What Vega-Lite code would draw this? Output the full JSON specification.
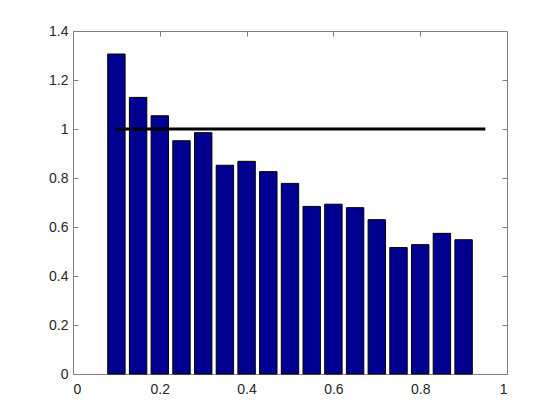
{
  "$schema": "https://vega.github.io/schema/vega-lite/v6.json",
  "width": 434,
  "height": 343,
  "autosize": {"type": "none"},
  "padding": {"left": 73, "top": 31, "right": 53, "bottom": 46},
  "background": "white",
  "config": {
    "view": {"stroke": "#808080", "strokeWidth": 1},
    "axis": {
      "grid": false,
      "domain": false,
      "tickColor": "#808080",
      "tickSize": -5,
      "labelFont": "Liberation Sans",
      "labelFontSize": 14,
      "labelColor": "#262626",
      "title": null
    }
  },
  "layer": [
    {
      "data": {"values": [
        {"x": 0.10, "v": 1.306},
        {"x": 0.15, "v": 1.129},
        {"x": 0.20, "v": 1.054},
        {"x": 0.25, "v": 0.952},
        {"x": 0.30, "v": 0.985},
        {"x": 0.35, "v": 0.852},
        {"x": 0.40, "v": 0.868},
        {"x": 0.45, "v": 0.826},
        {"x": 0.50, "v": 0.778},
        {"x": 0.55, "v": 0.684},
        {"x": 0.60, "v": 0.693},
        {"x": 0.65, "v": 0.679},
        {"x": 0.70, "v": 0.630},
        {"x": 0.75, "v": 0.516},
        {"x": 0.80, "v": 0.528},
        {"x": 0.85, "v": 0.574},
        {"x": 0.90, "v": 0.548}
      ]},
      "mark": {"type": "bar", "size": 17.4, "fill": "#000090", "stroke": "#000000", "strokeWidth": 1},
      "encoding": {
        "x": {"field": "x", "type": "quantitative", "scale": {"domain": [0, 1], "nice": false, "zero": false, "padding": 0},
              "axis": {"orient": "bottom", "values": [0, 0.2, 0.4, 0.6, 0.8, 1], "labelPadding": 13, "format": "~g"}},
        "y": {"field": "v", "type": "quantitative", "scale": {"domain": [0, 1.4], "nice": false, "padding": 0},
              "axis": {"orient": "left", "values": [0, 0.2, 0.4, 0.6, 0.8, 1, 1.2, 1.4], "labelPadding": 10, "format": "~g"}}
      }
    },
    {
      "data": {"values": [{"x0": 0.1, "x1": 0.95, "y": 1}]},
      "mark": {"type": "rule", "color": "#000000", "strokeWidth": 3},
      "encoding": {
        "x": {"field": "x0", "type": "quantitative",
              "axis": {"orient": "top", "values": [0, 0.2, 0.4, 0.6, 0.8, 1], "labels": false}},
        "x2": {"field": "x1"},
        "y": {"field": "y", "type": "quantitative",
              "axis": {"orient": "right", "values": [0, 0.2, 0.4, 0.6, 0.8, 1, 1.2, 1.4], "labels": false}}
      }
    }
  ]
}
